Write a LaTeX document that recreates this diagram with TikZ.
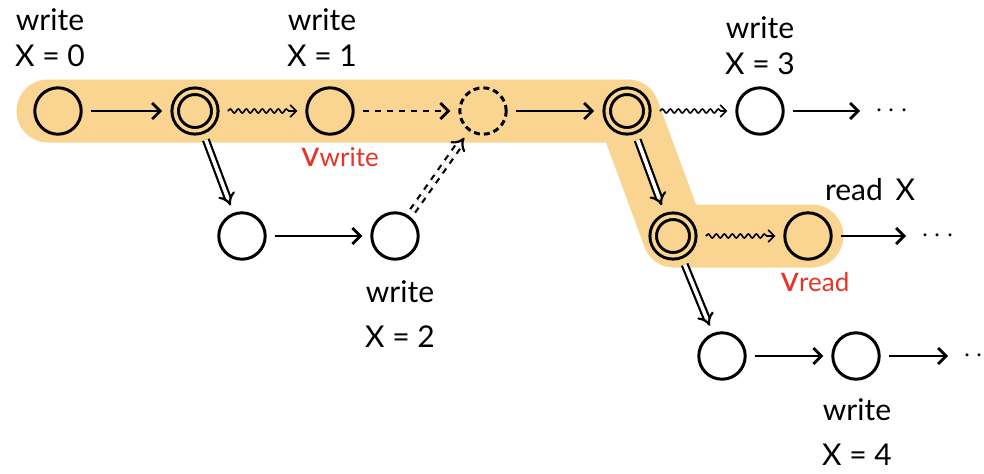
\documentclass[tikz,border=0pt]{standalone}
\usepackage{fontspec}
\setmainfont{Lato}
\usetikzlibrary{arrows.meta,decorations.pathmorphing}
\definecolor{hilite}{RGB}{250,212,145}
\definecolor{vred}{RGB}{232,52,40}
\begin{document}
\begin{tikzpicture}[x=0.5pt,y=-0.5pt,
  every node/.style={font=\fontsize{15}{18}\selectfont},
  state/.style={circle,draw,line width=1.5pt,minimum size=23.2pt,inner sep=0pt,outer sep=0.75pt},
  dstate/.style={state,minimum size=19.8pt,double=hilite,double distance=1.75pt,outer sep=2.5pt},
  ghost/.style={state,dash pattern=on 3pt off 2pt},
  edge/.style={line width=1.4pt,-{Straight Barb[length=4pt,width=8pt]},shorten <=4pt,shorten >=4pt},
  wavy/.style={line width=0.8pt,-{Straight Barb[length=3pt,width=6pt]},
    decorate,decoration={snake,amplitude=1pt,segment length=4pt,post length=3pt}},
  fork/.style={line width=1.1pt,double,double distance=1.8pt,-{Implies[scale=1.4]},shorten <=3pt,shorten >=4pt},
  lbl/.style={align=center},
  vlbl/.style={text=vred,inner sep=0pt}]
\useasboundingbox (0,0) rectangle (984,473);

% the path that is followed
\draw[hilite,line width=31.5pt,line cap=round,line join=round]
  (48,111) -- (628,111) -- (674,236) -- (812,236);

% events
\node[state] (a) at (58,111) {};
\node[dstate] (b) at (195,111) {};
\node[state] (c) at (330,111) {};
\node[ghost] (d) at (483,111) {};
\node[dstate] (e) at (627,111) {};
\node[state] (f) at (760,111) {};
\node[anchor=west] (fdots) at (868,111) {$\cdots$};
\node[state] (g) at (242,236) {};
\node[state] (h) at (395,236) {};
\node[dstate] (i) at (673,236) {};
\node[state] (j) at (808,236) {};
\node[anchor=west] (jdots) at (914,236) {$\cdots$};
\node[state] (k) at (722,356) {};
\node[state] (l) at (856,356) {};
\node[anchor=west] (ldots) at (956,356) {$\cdots$};

% labels
\node[lbl] (wa) at (50,38) {write\\X = 0};
\node[lbl] (wc) at (322,38) {write\\X = 1};
\node[lbl] (wf) at (760,46) {write\\X = 3};
\node[lbl] (wh) at (400,314) {write\\[4.5pt]X = 2};
\node[lbl] (wl) at (857,432) {write\\[4.5pt]X = 4};
\node (rj) at (870,190) {read\, X};
\node[vlbl] (vw) at (340,157) {{\fontsize{18}{18}\selectfont v}\fontsize{13}{13}\selectfont write};
\node[vlbl] (vr) at (815,282) {{\fontsize{18}{18}\selectfont v}\fontsize{13}{13}\selectfont read};

% edges
\draw[edge] (a) -- (b);
\draw[wavy] ([xshift=4pt]b.east) -- ([xshift=-4pt]c.west);
\draw[edge,dashed] (c) -- (d);
\draw[edge] (d) -- (e);
\draw[wavy] ([xshift=4pt]e.east) -- ([xshift=-4pt]f.west);
\draw[edge] (f) -- (fdots);
\draw[fork] (b) -- (g);
\draw[edge] (g) -- (h);
\draw[fork,dashed] (h) -- (d);
\draw[fork] (e) -- (i);
\draw[wavy] ([xshift=4pt]i.east) -- ([xshift=-4pt]j.west);
\draw[edge] (j) -- (jdots);
\draw[fork] (i) -- (k);
\draw[edge] (k) -- (l);
\draw[edge] (l) -- (ldots);
\end{tikzpicture}
\end{document}
